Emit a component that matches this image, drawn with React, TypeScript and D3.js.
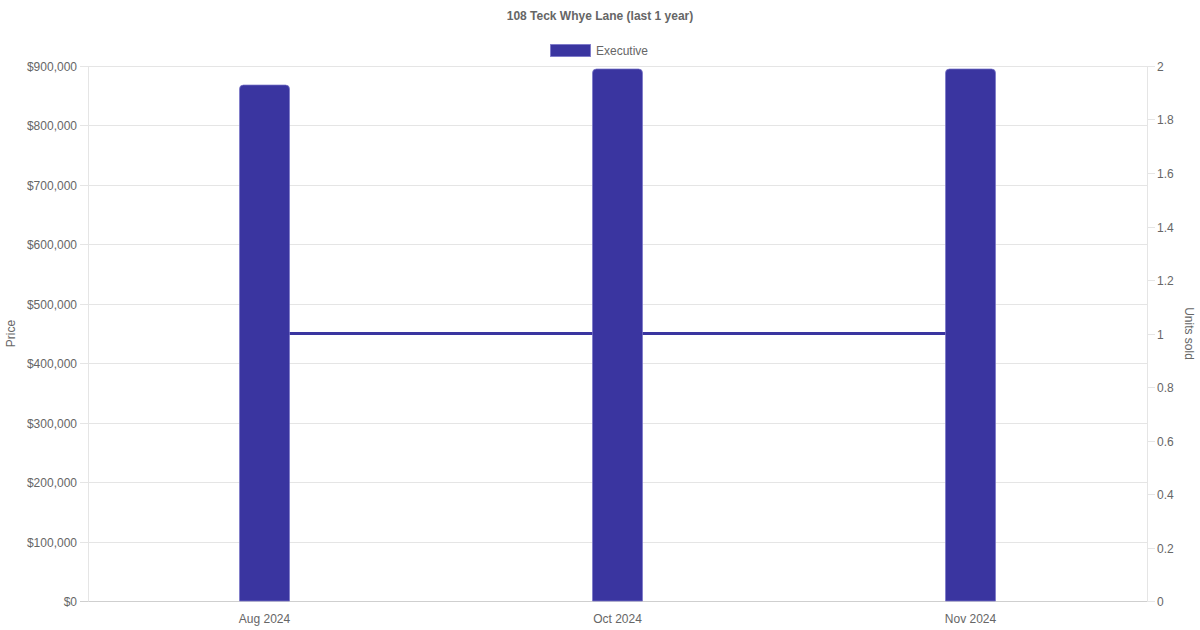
import { useEffect, useRef } from 'react';
import * as d3 from 'd3';

const W = 1200;
const H = 630;
const FONT = '"Liberation Sans", Arial, Helvetica, sans-serif';
const TEXT = '#666666';
const GRID = '#e5e5e5';
const BAR = '#3a35a0';

const title = '108 Teck Whye Lane (last 1 year)';
const seriesName = 'Executive';
const months = ['Aug 2024', 'Oct 2024', 'Nov 2024'];
const prices = [868000, 895000, 895000];
const unitsSold = [1, 1, 1];
const priceTicks = [0, 100000, 200000, 300000, 400000, 500000, 600000, 700000, 800000, 900000];
const unitTicks = [0, 0.2, 0.4, 0.6, 0.8, 1, 1.2, 1.4, 1.6, 1.8, 2];

const M = { left: 88, right: 1147, top: 66, bottom: 601 };

export default function App() {
  const svgRef = useRef<SVGSVGElement>(null);

  useEffect(() => {
    const svg = d3.select(svgRef.current);
    svg.selectAll('*').remove();

    const x = d3.scaleBand().domain(months).range([M.left, M.right]);
    const yL = d3.scaleLinear().domain([0, 900000]).range([M.bottom, M.top]);
    const yR = d3.scaleLinear().domain([0, 2]).range([M.bottom, M.top]);
    const fmtPrice = (v: number) => '$' + d3.format(',')(v);

    svg.append('rect').attr('width', W).attr('height', H).attr('fill', '#ffffff');

    // title
    svg
      .append('text')
      .attr('x', W / 2)
      .attr('y', 20)
      .attr('text-anchor', 'middle')
      .attr('font-size', 12)
      .attr('font-weight', 700)
      .attr('fill', TEXT)
      .text(title);

    // legend
    svg
      .append('rect')
      .attr('x', 550.5)
      .attr('y', 44.5)
      .attr('width', 40)
      .attr('height', 12)
      .attr('fill', BAR)
      .attr('stroke', 'rgba(120,115,200,0.8)')
      .attr('stroke-width', 1);
    svg
      .append('text')
      .attr('x', 596)
      .attr('y', 54.5)
      .attr('font-size', 12)
      .attr('fill', TEXT)
      .text(seriesName);

    // grid lines + left ticks
    const g = svg.append('g');
    priceTicks.forEach((t) => {
      const y = Math.round(yL(t)) + 0.5;
      g.append('line')
        .attr('x1', M.left - 8)
        .attr('x2', M.right)
        .attr('y1', y)
        .attr('y2', y)
        .attr('stroke', t === 0 ? '#cfcfcf' : GRID)
        .attr('stroke-width', 1);
      g.append('text')
        .attr('x', M.left - 11)
        .attr('y', y + 4)
        .attr('text-anchor', 'end')
        .attr('font-size', 12)
        .attr('fill', TEXT)
        .text(fmtPrice(t));
    });

    // right ticks
    unitTicks.forEach((t) => {
      const y = Math.round(yR(t)) + 0.5;
      g.append('line')
        .attr('x1', M.right)
        .attr('x2', M.right + 8)
        .attr('y1', y)
        .attr('y2', y)
        .attr('stroke', GRID);
      g.append('text')
        .attr('x', M.right + 10)
        .attr('y', y + 4)
        .attr('font-size', 12)
        .attr('fill', TEXT)
        .text(String(t));
    });

    // x labels
    months.forEach((m) => {
      const cx = (x(m) ?? 0) + x.bandwidth() / 2;
      g.append('text')
        .attr('x', cx)
        .attr('y', M.bottom + 22)
        .attr('text-anchor', 'middle')
        .attr('font-size', 12)
        .attr('fill', TEXT)
        .text(m);
    });

    // axis lines
    g.append('line')
      .attr('x1', M.left + 0.5)
      .attr('x2', M.left + 0.5)
      .attr('y1', M.top)
      .attr('y2', M.bottom + 0.5)
      .attr('stroke', GRID);
    g.append('line')
      .attr('x1', M.right + 0.5)
      .attr('x2', M.right + 0.5)
      .attr('y1', M.top)
      .attr('y2', M.bottom + 0.5)
      .attr('stroke', GRID);

    // axis titles
    svg
      .append('text')
      .attr('transform', `translate(15, ${(M.top + M.bottom) / 2}) rotate(-90)`)
      .attr('text-anchor', 'middle')
      .attr('font-size', 12)
      .attr('fill', TEXT)
      .text('Price');
    svg
      .append('text')
      .attr('transform', `translate(1185, ${(M.top + M.bottom) / 2}) rotate(90)`)
      .attr('text-anchor', 'middle')
      .attr('font-size', 12)
      .attr('fill', TEXT)
      .text('Units sold');

    // units line
    const line = d3
      .line<number>()
      .x((_, i) => (x(months[i]) ?? 0) + x.bandwidth() / 2)
      .y((d) => yR(d));
    svg
      .append('path')
      .datum(unitsSold)
      .attr('d', line)
      .attr('fill', 'none')
      .attr('stroke', BAR)
      .attr('stroke-width', 3);

    // bars
    const bw = 50;
    const r = 4;
    prices.forEach((p, i) => {
      const cx = (x(months[i]) ?? 0) + x.bandwidth() / 2;
      const x0 = cx - bw / 2;
      const x1 = cx + bw / 2;
      const y0 = yL(p);
      const yb = yL(0);
      const path = `M${x0},${yb} L${x0},${y0 + r} Q${x0},${y0} ${x0 + r},${y0} L${x1 - r},${y0} Q${x1},${y0} ${x1},${y0 + r} L${x1},${yb} Z`;
      svg
        .append('path')
        .attr('d', path)
        .attr('fill', BAR)
        .attr('stroke', 'rgba(120,115,200,0.7)')
        .attr('stroke-width', 1);
    });
  }, []);

  return (
    <svg
      ref={svgRef}
      width={W}
      height={H}
      style={{ display: 'block', position: 'absolute', left: 0, top: 0, fontFamily: FONT }}
    />
  );
}
